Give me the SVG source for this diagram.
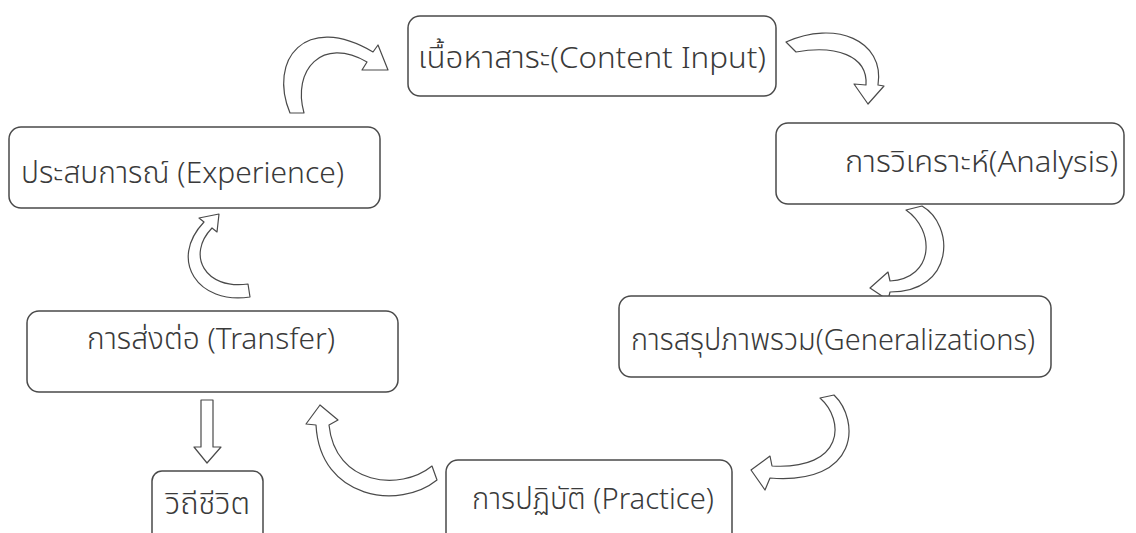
<svg xmlns="http://www.w3.org/2000/svg" width="1136" height="533" viewBox="0 0 1136 533">
<style>
.box{fill:#fff;stroke:#4a4a4a;stroke-width:1.5}
.lbl{font-family:"Noto Sans Thai","Noto Sans","Open Sans",sans-serif;font-size:30px;font-weight:300;fill:#3a3a3a}
.arr{fill:#fff;stroke:#4a4a4a;stroke-width:1.2;stroke-linejoin:round}
</style>
<rect width="1136" height="533" fill="#fff"/>
<g id="connectors">
<path class="arr" d="M 290,113 C 268,60 305,12 373,52 L 378,45 L 388,70 L 362,70 L 367,62 C 322,36 292,70 304,113 Z"/>
<path class="arr" d="M 786,42 C 835,20 885,40 878,85 L 884,86 L 868,104 L 854,84 L 866,85 C 868,55 835,45 796,52 Z"/>
<path class="arr" d="M 906,210 C 935,230 935,278 890,281 L 888,272 L 870,288 L 888,300 L 890,292 C 955,292 955,225 922,206 Z"/>
<path class="arr" d="M 820,398 C 845,420 845,470 772,466 L 770,456 L 751,470 L 765,490 L 770,478 C 860,485 860,420 834,395 Z"/>
<path class="arr" d="M 432,466 C 400,492 335,485 329,425 L 338,420 L 320,405 L 306,424 L 316,425 C 320,500 400,510 437,480 Z"/>
<path class="arr" d="M 250,297 C 198,305 168,260 204,222 L 199,218 L 219,214 L 217,232 L 212,228 C 186,255 205,290 248,284 Z"/>
<path class="arr" d="M 201,400 L 213,400 L 213,447 L 221,447 L 207,463 L 194,447 L 201,447 Z"/>
</g>
<g id="content">
<rect class="box" x="408" y="16" width="368" height="80" rx="12"/>
<text class="lbl" x="418" y="68" textLength="348" lengthAdjust="spacingAndGlyphs">เนื้อหาสาระ(Content Input)</text>
</g>
<g id="analysis">
<rect class="box" x="776" y="123" width="348" height="81" rx="12"/>
<text class="lbl" x="845" y="172" textLength="273" lengthAdjust="spacingAndGlyphs">การวิเคราะห์(Analysis)</text>
</g>
<g id="generalizations">
<rect class="box" x="619" y="296" width="432" height="81" rx="12"/>
<text class="lbl" x="631" y="350" textLength="404" lengthAdjust="spacingAndGlyphs">การสรุปภาพรวม(Generalizations)</text>
</g>
<g id="practice">
<rect class="box" x="446" y="460" width="286" height="90" rx="12"/>
<text class="lbl" x="472" y="509" textLength="242" lengthAdjust="spacingAndGlyphs">การปฏิบัติ (Practice)</text>
</g>
<g id="experience">
<rect class="box" x="9" y="127" width="371" height="81" rx="12"/>
<text class="lbl" x="21" y="183" textLength="323" lengthAdjust="spacingAndGlyphs">ประสบการณ์ (Experience)</text>
</g>
<g id="transfer">
<rect class="box" x="27" y="311" width="371" height="81" rx="12"/>
<text class="lbl" x="87" y="349" textLength="248" lengthAdjust="spacingAndGlyphs">การส่งต่อ (Transfer)</text>
</g>
<g id="wayoflife">
<rect class="box" x="152" y="471" width="111" height="80" rx="10"/>
<text class="lbl" x="165" y="514" textLength="85" lengthAdjust="spacingAndGlyphs">วิถีชีวิต</text>
</g>
</svg>
